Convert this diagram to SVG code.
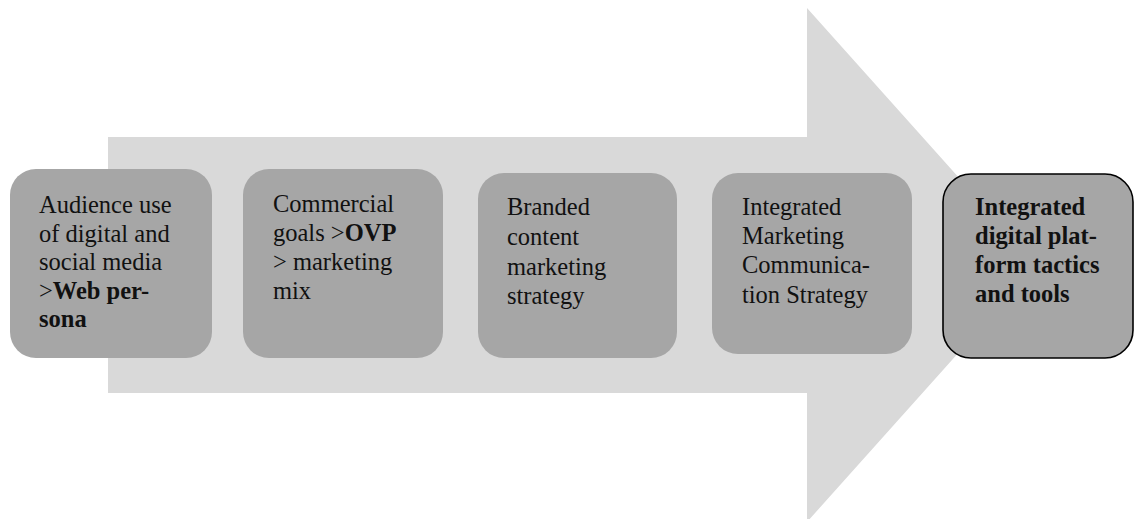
<svg xmlns="http://www.w3.org/2000/svg" width="1135" height="519" viewBox="0 0 1135 519">
<style>
.box{fill:#a6a6a6;}
.last{fill:#a6a6a6;stroke:#000;stroke-width:1.6;}
.t{font-family:"Liberation Serif","DejaVu Serif",serif;font-size:24.5px;fill:#111;}
.b{font-weight:bold;}
</style>
<rect width="1135" height="519" fill="#fff"/>
<g id="arrow">
<polygon points="108,137 807,137 807,8 1037,265 807,522 807,393 108,393" fill="#d9d9d9"/>
</g>
<g id="connectors"></g>
<g id="n1">
<rect class="box" x="10" y="169" width="202" height="189" rx="26"/>
<text class="t" x="39" y="213">Audience use</text>
<text class="t" x="39" y="241.5">of digital and</text>
<text class="t" x="39" y="270">social media</text>
<text class="t" x="39" y="298.5">&gt;<tspan class="b">Web per-</tspan></text>
<text class="t b" x="39" y="327">sona</text>
</g>
<g id="n2">
<rect class="box" x="243" y="169" width="200" height="189" rx="26"/>
<text class="t" x="273" y="212">Commercial</text>
<text class="t" x="273" y="241">goals &gt;<tspan class="b">OVP</tspan></text>
<text class="t" x="273" y="270">&gt; marketing</text>
<text class="t" x="273" y="299">mix</text>
</g>
<g id="n3">
<rect class="box" x="478" y="173" width="199" height="185" rx="26"/>
<text class="t" x="507" y="215">Branded</text>
<text class="t" x="507" y="245">content</text>
<text class="t" x="507" y="275">marketing</text>
<text class="t" x="507" y="304">strategy</text>
</g>
<g id="n4">
<rect class="box" x="712" y="173" width="200" height="181" rx="26"/>
<text class="t" x="742" y="215">Integrated</text>
<text class="t" x="742" y="244">Marketing</text>
<text class="t" x="742" y="273">Communica-</text>
<text class="t" x="742" y="303">tion Strategy</text>
</g>
<g id="n5">
<rect class="last" x="943" y="174" width="190" height="184" rx="28"/>
<text class="t b" x="975" y="215">Integrated</text>
<text class="t b" x="975" y="244">digital plat-</text>
<text class="t b" x="975" y="273">form tactics</text>
<text class="t b" x="975" y="302">and tools</text>
</g>
</svg>
